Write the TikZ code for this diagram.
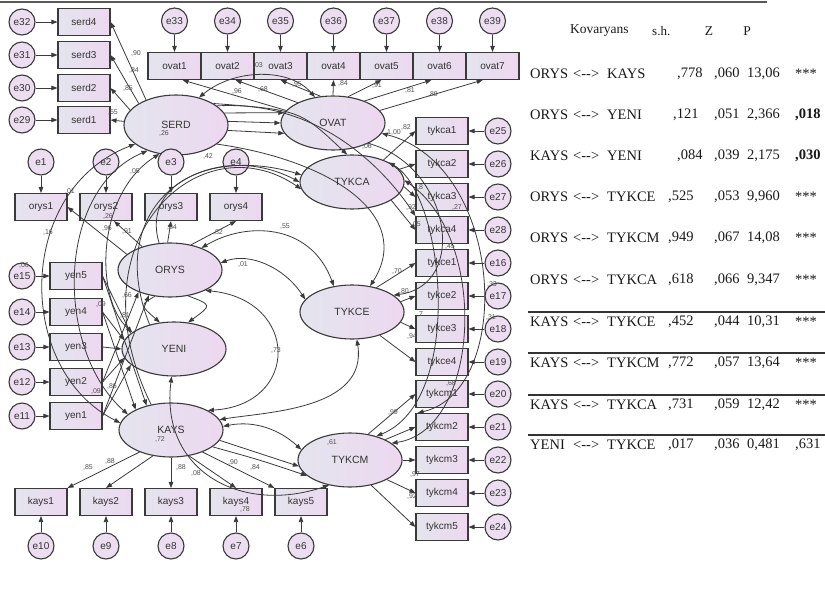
\documentclass[tikz,border=0pt]{standalone}
\usepackage{fontspec}
\setmainfont{Liberation Serif}
\setsansfont{Liberation Sans}
\usetikzlibrary{shapes.geometric,arrows.meta}
\definecolor{bdr}{HTML}{3A3A3A}
\definecolor{lavL}{HTML}{E4E4EE}
\definecolor{lavR}{HTML}{EDD8F0}
\definecolor{errf}{HTML}{ECDDF0}
\definecolor{txt}{HTML}{333333}
\definecolor{lbl}{HTML}{505050}
\newcommand{\covrow}[8]{%
  \node[tb] (r#1a) at (530,#1) {#2};
  \node[tb] (r#1b) at (573,#1) {<-{}->};
  \node[tb] (r#1c) at (607,#1) {#3};
  \node[tb] (r#1d) at (#8,#1) {#4};
  \node[tb] (r#1e) at (714,#1) {#5};
  \node[tb] (r#1f) at (747,#1) {#6};
  \node[tb] (r#1g) at (795,#1) {#7};
}
\begin{document}
\begin{tikzpicture}[x=1pt,y=-1pt,
  box/.style={rectangle,draw=bdr,line width=1.1pt,minimum width=52pt,minimum height=27pt,inner sep=0pt,left color=lavL,right color=lavR,text=txt,font=\sffamily\fontsize{10}{11}\selectfont},
  lat/.style={ellipse,draw=bdr,line width=1.1pt,minimum width=104pt,minimum height=54pt,inner sep=0pt,left color=lavL,right color=lavR,text=txt,font=\sffamily\fontsize{10.5}{12}\selectfont},
  err/.style={circle,draw=bdr,line width=1.1pt,minimum size=26pt,inner sep=0pt,fill=errf,text=txt,font=\sffamily\fontsize{10}{11}\selectfont},
  ar/.style={draw=bdr,line width=0.8pt,-{Triangle[length=6pt,width=4.5pt]}},
  cv/.style={draw=bdr,line width=0.8pt,{Triangle[length=6pt,width=4.5pt]}-{Triangle[length=6pt,width=4.5pt]}},
  lb/.style={text=lbl,font=\sffamily\fontsize{7}{8}\selectfont,inner sep=0pt},
  tb/.style={anchor=west,inner sep=0pt,text=black!90,font=\fontsize{14.5}{16}\selectfont}
]
\useasboundingbox (0,0) rectangle (825,605);
\draw[line width=1.6pt,black!65] (0,2) -- (767,2);

% latent variables
\node[lat,minimum height=60pt] (SERD) at (176,125) {SERD};
\node[lat] (OVAT) at (333,123) {OVAT};
\node[lat] (TYKCA) at (352,182) {TYKCA};
\node[lat] (TYKCE) at (352,312) {TYKCE};
\node[lat] (TYKCM) at (350,460) {TYKCM};
\node[lat] (ORYS) at (170,270) {ORYS};
\node[lat] (YENI) at (174,349) {YENI};
\node[lat] (KAYS) at (171,430) {KAYS};

% indicators and errors
\foreach \i/\yy/\ee in {4/22/32,3/55/31,2/88/30,1/120/29}{
  \node[box] (serd\i) at (84,\yy) {serd\i};
  \node[err] (e\ee) at (22,\yy) {e\ee};
  \draw[ar] (e\ee) -- (serd\i);
}
\foreach \i/\ee in {1/33,2/34,3/35,4/36,5/37,6/38,7/39}{
  \node[box,minimum width=53pt] (ovat\i) at ({121.5+53*\i},66) {ovat\i};
  \node[err] (e\ee) at ({121.5+53*\i},21) {e\ee};
  \draw[ar] (e\ee) -- (ovat\i);
}
\foreach \i/\xx in {1/41,2/106,3/171,4/236}{
  \node[box] (orys\i) at (\xx,207) {orys\i};
  \node[err] (e\i) at (\xx,162) {e\i};
  \draw[ar] (e\i) -- (orys\i);
}
\foreach \i/\yy/\ee in {5/276/15,4/312/14,3/347/13,2/382/12,1/416/11}{
  \node[box] (yen\i) at (76,\yy) {yen\i};
  \node[err] (e\ee) at (22,\yy) {e\ee};
  \draw[ar] (e\ee) -- (yen\i);
}
\foreach \i/\xx/\ee in {1/41/10,2/106/9,3/171/8,4/236/7,5/301/6}{
  \node[box] (kays\i) at (\xx,502) {kays\i};
  \node[err] (e\ee) at (\xx,546) {e\ee};
  \draw[ar] (e\ee) -- (kays\i);
}
\foreach \nm/\yy/\ee in {tykca1/131/25,tykca2/164/26,tykca3/197/27,tykca4/230/28,tykce1/263/16,tykce2/296/17,tykce3/329/18,tykce4/362/19,tykcm1/394/20,tykcm2/427/21,tykcm3/460/22,tykcm4/493/23,tykcm5/527/24}{
  \node[box] (\nm) at (442,\yy) {\nm};
  \node[err] (e\ee) at (498,\yy) {e\ee};
  \draw[ar] (e\ee) -- (\nm);
}

% loadings
\draw[ar] (SERD.140) -- (serd4.east);
\draw[ar] (SERD.150) -- (serd3.east);
\draw[ar] (SERD.162) -- (serd2.east);
\draw[ar] (SERD.176) -- (serd1.east);
\draw[ar] (OVAT.165) -- (ovat1.300);
\draw[ar] (OVAT.150) -- (ovat2.300);
\draw[ar] (OVAT.115) -- (ovat3.south);
\draw[ar] (OVAT.north) -- (ovat4.south);
\draw[ar] (OVAT.60) -- (ovat5.250);
\draw[ar] (OVAT.35) -- (ovat6.240);
\draw[ar] (OVAT.15) -- (ovat7.235);
\draw[ar] (TYKCA.35) -- (tykca1.west);
\draw[ar] (TYKCA.15) -- (tykca2.west);
\draw[ar] (TYKCA.-5) -- (tykca3.west);
\draw[ar] (TYKCA.-25) -- (tykca4.west);
\draw[ar] (TYKCE.45) -- (tykce1.west);
\draw[ar] (TYKCE.12) -- (tykce2.west);
\draw[ar] (TYKCE.-12) -- (tykce3.west);
\draw[ar] (TYKCE.-40) -- (tykce4.west);
\draw[ar] (TYKCM.55) -- (tykcm1.west);
\draw[ar] (TYKCM.30) -- (tykcm2.west);
\draw[ar] (TYKCM.0) -- (tykcm3.west);
\draw[ar] (TYKCM.-28) -- (tykcm4.west);
\draw[ar] (TYKCM.-50) -- (tykcm5.west);
\draw[ar] (ORYS.160) -- (orys1.east);
\draw[ar] (ORYS.140) -- (orys2.-60);
\draw[ar] (ORYS.95) -- (orys3.south);
\draw[ar] (ORYS.50) -- (orys4.south);
\foreach \i/\a in {5/160,4/170,3/180,2/190,1/200} \draw[ar] (yen\i.east) -- (YENI.\a);
\draw[ar] (yen5.east) -- (KAYS.135);
\draw[ar] (yen4.east) -- (KAYS.150);
\draw[ar] (yen2.east) -- (ORYS.215);
\draw[ar] (yen1.east) -- (ORYS.230);
\draw[ar] (KAYS.215) -- (kays1.north east);
\draw[ar] (KAYS.235) -- (kays2.north);
\draw[ar] (KAYS.south) -- (kays3.north);
\draw[ar] (KAYS.-55) -- (kays4.north);
\draw[ar] (KAYS.-35) -- (kays5.north west);

% covariances and paths
\draw[cv] (ORYS.35) .. controls (245,222) and (310,222) .. (TYKCE.125);
\draw[cv] (ORYS.8) .. controls (250,252) and (285,268) .. (TYKCE.165);
\draw[cv] (ORYS.-30) .. controls (300,300) and (300,405) .. (KAYS.28);
\draw[cv] (TYKCE.280) .. controls (368,410) and (265,412) .. (KAYS.12);
\draw[ar] (ORYS.-55) .. controls (212,305) .. (YENI.62);
\draw[ar] (ORYS.240) .. controls (140,305) .. (YENI.118);
\draw[cv] (KAYS.4) .. controls (255,420) and (280,430) .. (TYKCM.168);
\draw[ar] (KAYS.-12) -- (TYKCM.187);
\draw[ar] (KAYS.-22) .. controls (260,460) .. (TYKCM.200);
\draw[cv] (YENI.265) .. controls (160,470) and (240,515) .. (TYKCM.230);
\draw[cv] (SERD.205) .. controls (15,190) and (15,370) .. (KAYS.172);
\draw[cv] (SERD.222) .. controls (55,190) and (55,350) .. (KAYS.160);
\draw[cv] (SERD.240) .. controls (95,195) and (95,300) .. (YENI.158);
\draw[ar] (ORYS.112) .. controls (140,180) and (220,150) .. (TYKCA.172);
\draw[ar] (YENI.135) .. controls (100,200) and (210,135) .. (TYKCA.180);
\draw[ar] (KAYS.128) .. controls (70,240) and (200,120) .. (TYKCA.188);
\draw[cv] (SERD.50) .. controls (235,68) and (290,68) .. (OVAT.125);
\draw[ar] (SERD.14) -- (OVAT.168);
\draw[ar] (SERD.4) -- (OVAT.180);
\draw[ar] (SERD.-6) -- (OVAT.192);
\draw[ar] (SERD.25) .. controls (320,100) and (385,170) .. (tykca4.north west);
\draw[ar] (SERD.-25) .. controls (330,160) and (415,215) .. (TYKCE.55);
\draw[ar] (SERD.30) .. controls (300,110) .. (TYKCA.100);
\draw[cv] (OVAT.-12) .. controls (505,165) and (515,390) .. (tykcm2.150);
\draw[cv] (TYKCA.28) .. controls (445,195) and (465,400) .. (TYKCM.42);
\draw[ar] (OVAT.-30) .. controls (450,165) and (470,285) .. (TYKCE.22);
\draw[cv] (TYKCA.2) .. controls (490,240) and (480,430) .. (TYKCM.22);

% estimates
\foreach \xx/\yy/\t [count=\k] in {164/134/{,26},136/54/{,90},134/71/{,84},128/89/{,85},113/113/{,65},
  237/92/{,96},263/90/{,68},297/85/{,95},343/84/{,84},377/86/{,91},410/91/{,81},433/95/{,89},258/66/{,03},
  394/133/{1,00},406/128/{,82},420/188/{,8},411/208/{,92},457/208/{,27},416/225/{,05},450/247/{,45},
  397/272/{,70},404/292/{,80},420/315/{,7},412/337/{,94},492/285/{,33},491/318/{,31},451/383/{,68},
  393/412/{,99},415/474/{,97},412/496/{,92},332/442/{,61},367/147/{,06},
  243/265/{,01},285/227/{,55},276/350/{,73},70/192/{,01},48/233/{,16},135/172/{,05},208/157/{,42},
  107/229/{,96},127/232/{,91},108/217/{,26},218/233/{,82},172/228/{,84},24/266/{,06},
  101/305/{,09},127/296/{,66},125/316/{,81},96/392/{,09},112/386/{,86},
  160/439/{,72},88/467/{,85},110/461/{,88},181/467/{,88},196/473/{,08},233/462/{,90},255/467/{,84},245/509/{,78}}
  \node[lb] (lab\k) at (\xx,\yy) {\t};

% table
\node[tb,font=\fontsize{13.5}{15}\selectfont] (h1) at (570,31) {Kovaryans};
\node[tb,font=\fontsize{13}{15}\selectfont] (h2) at (652,31) {s.h.};
\node[tb,font=\fontsize{13.5}{15}\selectfont,anchor=center] (h3) at (709,31) {Z};
\node[tb,font=\fontsize{13.5}{15}\selectfont,anchor=center] (h4) at (747,31) {P};
\covrow{74}{ORYS}{KAYS}{,778}{,060}{13,06}{***}{677}
\covrow{115}{ORYS}{YENI}{,121}{,051}{2,366}{\textbf{,018}}{673}
\covrow{156}{KAYS}{YENI}{,084}{,039}{2,175}{\textbf{,030}}{677}
\covrow{197}{ORYS}{TYKCE}{,525}{,053}{9,960}{***}{668}
\covrow{238}{ORYS}{TYKCM}{,949}{,067}{14,08}{***}{668}
\covrow{280}{ORYS}{TYKCA}{,618}{,066}{9,347}{***}{668}
\covrow{322}{KAYS}{TYKCE}{,452}{,044}{10,31}{***}{668}
\covrow{363}{KAYS}{TYKCM}{,772}{,057}{13,64}{***}{668}
\covrow{405}{KAYS}{TYKCA}{,731}{,059}{12,42}{***}{668}
\covrow{445}{YENI}{TYKCE}{,017}{,036}{0,481}{,631}{668}
\foreach \yy in {312,353,395,435} \draw[line width=1.1pt,black!80] (528,\yy) -- (825,\yy);
\end{tikzpicture}
\end{document}
